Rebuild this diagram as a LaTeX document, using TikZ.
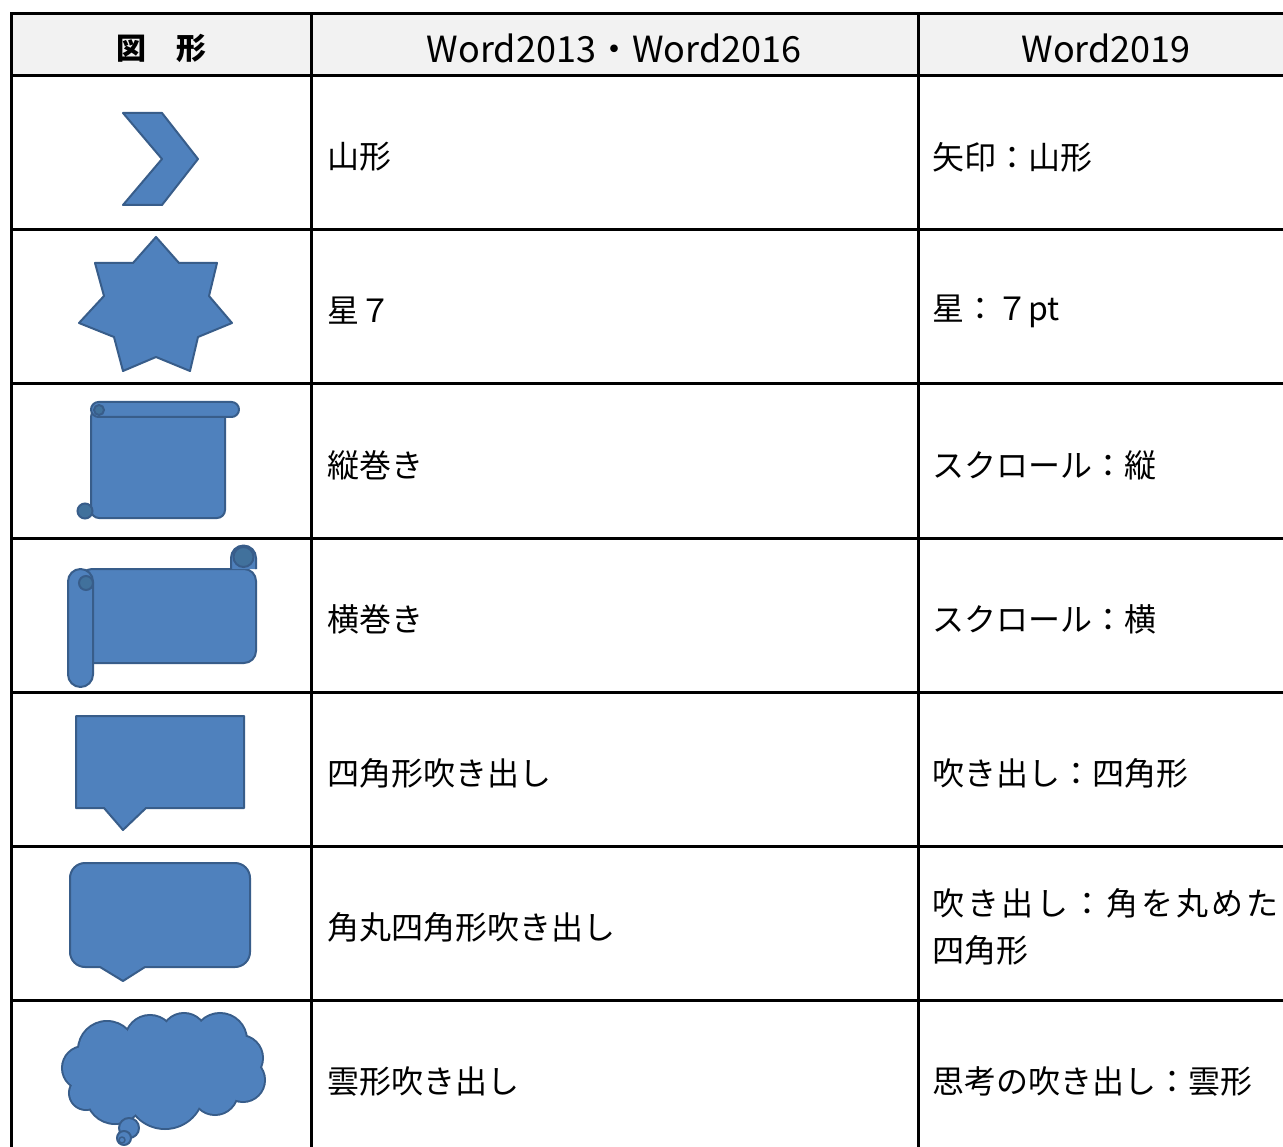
\documentclass[tikz,border=0pt]{standalone}
\usepackage{fontspec}
\setmainfont{Noto Sans CJK JP}
\newfontfamily\jpwide[LetterSpace=9]{Noto Sans CJK JP}
\usepackage{tikz}
\definecolor{shapeblue}{HTML}{4F81BD}
\definecolor{shapeline}{HTML}{385D8A}
\definecolor{curlblue}{HTML}{41719C}
\definecolor{headgray}{HTML}{F2F2F2}

\begin{document}
\begin{tikzpicture}[x=1pt, y=-1pt]
                \tikzstyle{tableline} = [line width=3pt, black, line cap=rect]
                \tikzstyle{figblue} = [fill=shapeblue, draw=shapeline, line width=2pt, line join=round]
                \tikzstyle{curl} = [fill=curlblue, draw=shapeline, line width=2pt]
                \tikzstyle{cell} = [anchor=west, inner sep=0pt, align=left, font=\fontsize{32}{47}\selectfont]
                \tikzstyle{head} = [inner sep=0pt, font=\fontsize{36}{40}\selectfont]
                \useasboundingbox (0,0) rectangle (1283,1147);
                \fill[white] (0,0) rectangle (1283,1147);
                % table
                \fill[headgray] (11,14) rectangle (1283,76);
                \foreach \y in {14,76,230,384,538,692,846,1000} {
                    \draw[tableline] (11,\y) -- (1290,\y);
                }
                \foreach \x in {11,311,918} {
                    \draw[tableline] (\x,14) -- (\x,1150);
                }
                \node[head, font=\fontsize{30}{32}\selectfont\bfseries] (hfig) at (161,48) {図　形};
                \node[head] (hold) at (614,48) {Word2013・Word2016};
                \node[head] (hnew) at (1106,48) {Word2019};
                \foreach \a/\b [count=\i] in {山形/矢印：山形, 星７/星：７pt, 縦巻き/スクロール：縦,
                        横巻き/スクロール：横, 四角形吹き出し/吹き出し：四角形,
                        角丸四角形吹き出し/{{\jpwide 吹き出し：角を丸めた}\\四角形},
                        雲形吹き出し/思考の吹き出し：雲形} {
                    \node[cell] (old\i) at (327, {157+154*(\i-1)}) {\a};
                    \node[cell] (new\i) at (932, {157+154*(\i-1)}) {\b};
                }
                % chevron
                \draw[figblue] (123,113) -- (162,113) -- (198,159) -- (162,205) -- (123,205) -- (162,159) -- cycle;
                % seven point star
                \draw[figblue] (156,237) -- (179,263) -- (217,263) -- (209,296) -- (232,323) -- (198,337)
                    -- (190,371) -- (156,357) -- (123,371) -- (114,337) -- (79,323) -- (104,296)
                    -- (95,263) -- (133,263) -- cycle;
                % vertical scroll
                \draw[figblue, rounded corners=8] (91,409) rectangle (225,518);
                \draw[figblue, rounded corners=7.5] (91,402) rectangle (239,417);
                \draw[curl] (99,410) circle[radius=5];
                \draw[curl] (85,511) circle[radius=7.5];
                % horizontal scroll
                \draw[figblue, rounded corners=12] (80,569) rectangle (256,663);
                \draw[figblue] (231,569) -- (231,558) arc[start angle=180, end angle=360, radius=12.5] -- (256,569);
                \draw[curl] (243.5,557) circle[radius=10];
                \draw[figblue, rounded corners=12.5] (68,569) rectangle (93,687);
                \draw[curl] (86,583) circle[radius=7];
                % rectangular callout
                \draw[figblue] (76,716) -- (244,716) -- (244,808) -- (146,808) -- (123,830) -- (104,808) -- (76,808) -- cycle;
                % rounded rectangular callout
                \draw[figblue] (85,863) -- (235,863) arc[start angle=270, end angle=360, radius=15]
                    -- (250,952) arc[start angle=0, end angle=90, radius=15]
                    -- (145,967) -- (123,981) -- (100,967) -- (85,967) arc[start angle=90, end angle=180, radius=15]
                    -- (70,878) arc[start angle=180, end angle=270, radius=15] -- cycle;
                % cloud callout
                \foreach \cx/\cy/\r in {107/1050/28, 150/1040/24, 184/1036/22, 220/1040/26, 240/1058/22,
                        243/1080/21, 215/1092/22, 165/1090/38, 115/1095/28, 86/1093/16, 84/1068/21} {
                    \draw[draw=shapeline, line width=4pt] (\cx,\cy) circle[radius=\r];
                }
                \foreach \cx/\cy/\r in {107/1050/28, 150/1040/24, 184/1036/22, 220/1040/26, 240/1058/22,
                        243/1080/21, 215/1092/22, 165/1090/38, 115/1095/28, 86/1093/16, 84/1068/21} {
                    \fill[shapeblue] (\cx,\cy) circle[radius=\r];
                }
                \fill[shapeblue] (163,1068) ellipse[x radius=80, y radius=38];
                \draw[figblue] (129,1128) circle[radius=10];
                \draw[figblue] (124,1138) circle[radius=7];
                \draw[figblue, line width=1.5pt] (122,1140) circle[radius=3];
            \end{tikzpicture}
\end{document}
